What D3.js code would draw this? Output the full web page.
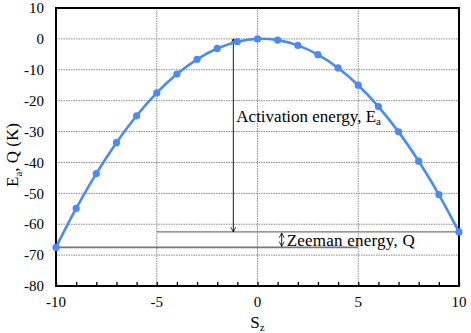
<!DOCTYPE html>
<html>
<head>
<meta charset="utf-8">
<script src="https://cdn.jsdelivr.net/npm/d3@7"></script>
<style>
  body { margin: 0; background: #fff; }
  svg text { font-family: "Liberation Serif", "DejaVu Serif", serif; fill: #000; }
</style>
</head>
<body>
<div id="chart"></div>
<script>
// spin projection and energy values
var sz = [-10, -9, -8, -7, -6, -5, -4, -3, -2, -1, 0, 1, 2, 3, 4, 5, 6, 7, 8, 9, 10]
var energy = [-67.5, -54.9, -43.6, -33.6, -24.9, -17.5, -11.4, -6.6, -3.1, -0.9, 0,
              -0.4, -2.1, -5.1, -9.4, -15, -21.9, -30.1, -39.6, -50.4, -62.5]
var xTicks = [-10, -5, 0, 5, 10]
var yTicks = [10, 0, -10, -20, -30, -40, -50, -60, -70, -80]
// annotation levels
var barrierTop = 0, upperLevel = -62.5, lowerLevel = -67.5
var activationX = -1.2, zeemanX = 1.2

var W = 471, H = 333
var margin = {top: 8, right: 12, bottom: 47, left: 56},
    width = W - margin.left - margin.right,
    height = H - margin.top - margin.bottom;

var svg = d3.select("#chart").append("svg")
    .attr("width", W).attr("height", H)

var g = svg.append("g")
    .attr("transform", "translate(" + margin.left + "," + margin.top + ")");

var x = d3.scaleLinear().domain([-10, 10]).range([0, width])
var y = d3.scaleLinear().domain([-80, 10]).range([height, 0])

// grid lines
g.append("g").selectAll("line").data(yTicks.slice(1, -1)).enter().append("line")
    .attr("x1", 0).attr("x2", width)
    .attr("y1", d => y(d)).attr("y2", d => y(d))
    .attr("stroke", "#8a8a8a").attr("stroke-width", 1).attr("stroke-dasharray", "1.5,1")
g.append("g").selectAll("line").data(xTicks.slice(1, -1)).enter().append("line")
    .attr("y1", 0).attr("y2", height)
    .attr("x1", d => x(d)).attr("x2", d => x(d))
    .attr("stroke", "#8a8a8a").attr("stroke-width", 1).attr("stroke-dasharray", "1.5,1")

// bottom axis: minor ticks each unit, pointing inward
var xAxis = g.append("g")
    .attr("transform", "translate(0," + height + ")")
    .call(d3.axisBottom(x).tickValues(d3.range(-10, 11, 1)).tickSize(-4).tickFormat(""))
xAxis.select(".domain").remove()
xAxis.selectAll("line").attr("stroke", "#000").attr("stroke-width", 1.3)

g.append("g").selectAll("text").data(xTicks).enter().append("text")
    .attr("x", d => x(d)).attr("y", height + 21)
    .attr("text-anchor", "middle").attr("font-size", 15)
    .text(d => d)

g.append("g").selectAll("text").data(yTicks).enter().append("text")
    .attr("x", -12).attr("y", d => y(d)).attr("dy", "0.35em")
    .attr("text-anchor", "end").attr("font-size", 15)
    .text(d => d)

// frame
g.append("rect")
    .attr("width", width).attr("height", height)
    .attr("fill", "none").attr("stroke", "#000").attr("stroke-width", 2)

// level lines
g.append("line")
    .attr("x1", x(-5)).attr("x2", x(10))
    .attr("y1", y(upperLevel)).attr("y2", y(upperLevel))
    .attr("stroke", "#777").attr("stroke-width", 1.2)
g.append("line")
    .attr("x1", x(-10)).attr("x2", x(5))
    .attr("y1", y(lowerLevel)).attr("y2", y(lowerLevel))
    .attr("stroke", "#777").attr("stroke-width", 1.6)

// arrow markers
var defs = svg.append("defs")
defs.append("marker").attr("id", "head")
    .attr("viewBox", "0 0 10 10").attr("refX", 9).attr("refY", 5)
    .attr("markerWidth", 6).attr("markerHeight", 6)
    .attr("markerUnits", "userSpaceOnUse")
    .attr("orient", "auto-start-reverse")
    .append("path").attr("d", "M1,1 L9,5 L1,9")
    .attr("fill", "none").attr("stroke", "#000").attr("stroke-width", 1.3)

g.append("line")
    .attr("x1", x(activationX)).attr("x2", x(activationX))
    .attr("y1", y(barrierTop)).attr("y2", y(upperLevel))
    .attr("stroke", "#000").attr("stroke-width", 0.9)
    .attr("marker-start", "url(#head)").attr("marker-end", "url(#head)")
g.append("line")
    .attr("x1", x(zeemanX)).attr("x2", x(zeemanX))
    .attr("y1", y(upperLevel) + 1).attr("y2", y(lowerLevel) - 1)
    .attr("stroke", "#000").attr("stroke-width", 0.9)
    .attr("marker-start", "url(#head)").attr("marker-end", "url(#head)")

// data line and points
g.append("path").datum(sz.map((s, i) => [s, energy[i]]))
    .attr("fill", "none").attr("stroke", "#4a8af4").attr("stroke-width", 2.6)
    .attr("d", d3.line().x(d => x(d[0])).y(d => y(d[1])).curve(d3.curveCatmullRom))
g.append("g").selectAll("circle").data(sz).enter().append("circle")
    .attr("cx", d => x(d)).attr("cy", (d, i) => y(energy[i]))
    .attr("r", 3.6).attr("fill", "#4a8af4")

// annotations
var t1 = g.append("text")
    .attr("x", x(activationX) + 3).attr("y", y(-25) + 6)
    .attr("font-size", 17)
t1.append("tspan").text("Activation energy, E")
t1.append("tspan").attr("font-size", 11).attr("dy", 3).text("a")

g.append("text")
    .attr("x", x(zeemanX) + 5).attr("y", y(-65) + 6)
    .attr("font-size", 17).attr("textLength", 128)
    .text("Zeeman energy, Q")

// axis titles
var xt = svg.append("text")
    .attr("x", margin.left + x(0)).attr("y", 328)
    .attr("text-anchor", "middle").attr("font-size", 17)
xt.append("tspan").text("S")
xt.append("tspan").attr("font-size", 11).attr("dy", 3).text("z")

var yt = svg.append("text")
    .attr("transform", "translate(18,155) rotate(-90)")
    .attr("text-anchor", "middle").attr("font-size", 17)
yt.append("tspan").text("E")
yt.append("tspan").attr("font-size", 11).attr("dy", 4).text("a")
yt.append("tspan").attr("dy", -4).text(", Q (K)")
</script>
</body>
</html>
